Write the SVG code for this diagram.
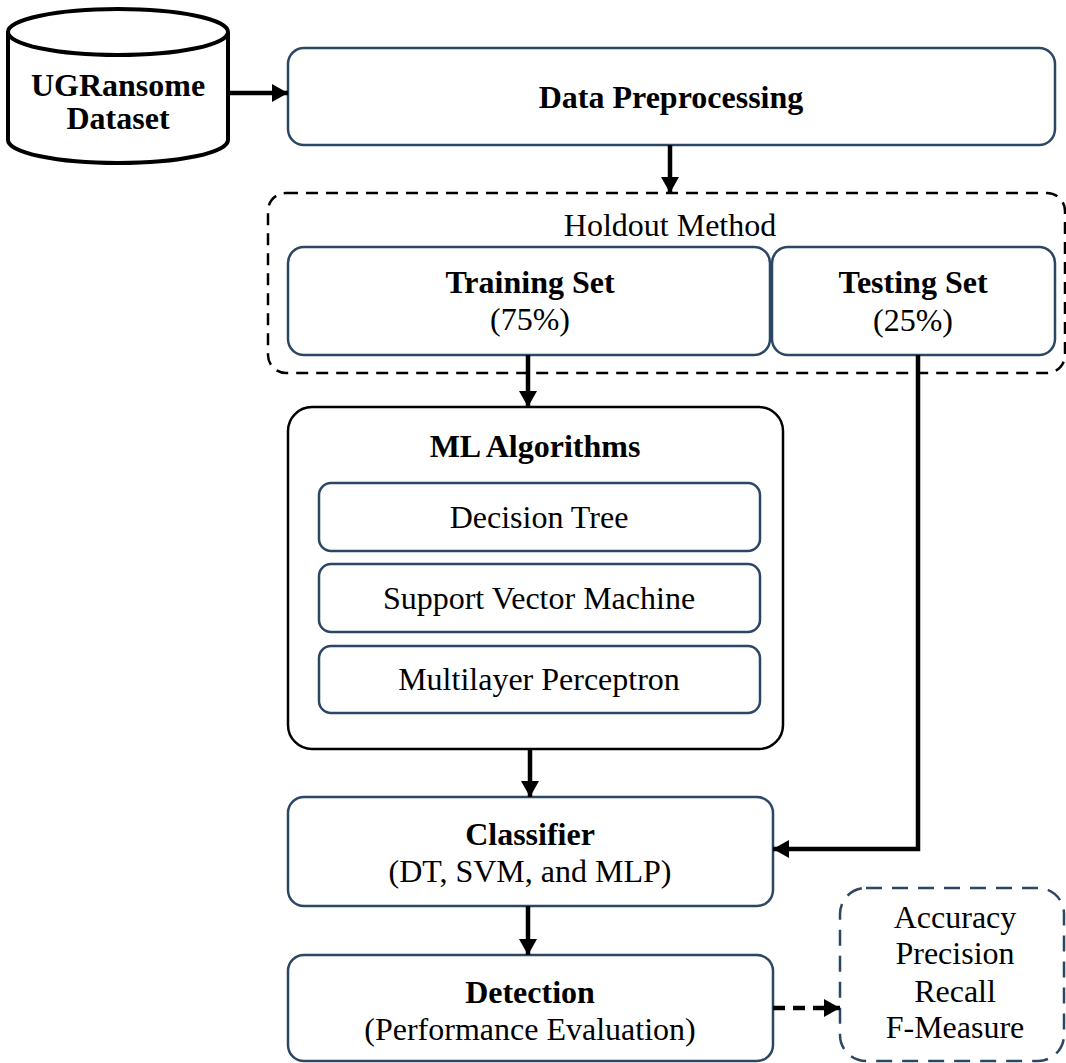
<svg xmlns="http://www.w3.org/2000/svg" width="1066" height="1063" viewBox="0 0 1066 1063">
  <style>
    text { font-family: "Liberation Serif", "Times New Roman", serif; font-size: 32px; fill: #000; text-anchor: middle; }
    .b { font-weight: bold; }
    .box { fill: #fff; stroke: #2b4764; stroke-width: 2.5; }
    .ml { fill: #fff; stroke: #000; stroke-width: 2.5; }
    .group { fill: none; stroke: #000; stroke-width: 2.5; stroke-dasharray: 12 8; }
    .metrics { fill: #fff; stroke: #2b4764; stroke-width: 2.5; stroke-dasharray: 16 10; }
    .conn { fill: none; stroke: #000; stroke-width: 4.5; }
    .dash { stroke-dasharray: 12 8; }
  </style>
  <defs>
    <marker id="head" markerUnits="userSpaceOnUse" markerWidth="18" markerHeight="18" viewBox="0 0 16 18" refX="16" refY="9" orient="auto">
      <path d="M0,0 L16,9 L0,18 Z" fill="#000"/>
    </marker>
  </defs>
  <rect width="1066" height="1063" fill="#fff"/>

  <!-- holdout split frame -->
  <g id="holdout">
    <rect class="group" x="268" y="193" width="797" height="180" rx="18"/>
    <text x="670" y="236">Holdout Method</text>
  </g>

  <g id="dataset">
    <path d="M8,32 V140 A110,23 0 0 0 228,140 V32" fill="#fff" stroke="#000" stroke-width="4"/>
    <ellipse cx="118" cy="32" rx="110" ry="23" fill="#fff" stroke="#000" stroke-width="4"/>
    <text class="b" x="118" y="96">UGRansome</text>
    <text class="b" x="118" y="129">Dataset</text>
  </g>

  <g id="preprocessing">
    <rect class="box" x="288" y="48" width="767" height="97" rx="16"/>
    <text class="b" x="671" y="108">Data Preprocessing</text>
  </g>

  <g id="training">
    <rect class="box" x="288" y="247" width="482" height="108" rx="16"/>
    <text class="b" x="530" y="293">Training Set</text>
    <text x="530" y="330">(75%)</text>
  </g>

  <g id="testing">
    <rect class="box" x="772" y="247" width="283" height="108" rx="16"/>
    <text class="b" x="913" y="293">Testing Set</text>
    <text x="913" y="331">(25%)</text>
  </g>

  <g id="algorithms">
    <rect class="ml" x="288" y="407" width="495" height="342" rx="24"/>
    <text class="b" x="535" y="457">ML Algorithms</text>
    <g id="dt">
      <rect class="box" x="319" y="483" width="441" height="68" rx="12"/>
      <text x="539" y="528">Decision Tree</text>
    </g>
    <g id="svm">
      <rect class="box" x="319" y="564" width="441" height="68" rx="12"/>
      <text x="539" y="609">Support Vector Machine</text>
    </g>
    <g id="mlp">
      <rect class="box" x="319" y="646" width="441" height="67" rx="12"/>
      <text x="539" y="690">Multilayer Perceptron</text>
    </g>
  </g>

  <g id="classifier">
    <rect class="box" x="288" y="797" width="485" height="109" rx="16"/>
    <text class="b" x="530" y="845">Classifier</text>
    <text x="530" y="882">(DT, SVM, and MLP)</text>
  </g>

  <g id="detection">
    <rect class="box" x="288" y="955" width="485" height="106" rx="16"/>
    <text class="b" x="530" y="1003">Detection</text>
    <text x="530" y="1040">(Performance Evaluation)</text>
  </g>

  <g id="metrics">
    <rect class="metrics" x="840" y="888" width="224" height="173" rx="26"/>
    <text x="955" y="928">Accuracy</text>
    <text x="955" y="964">Precision</text>
    <text x="955" y="1002">Recall</text>
    <text x="955" y="1038">F-Measure</text>
  </g>

  <g id="connectors">
    <line class="conn" x1="228" y1="93" x2="288" y2="93" marker-end="url(#head)"/>
    <line class="conn" x1="670" y1="145" x2="670" y2="193" marker-end="url(#head)"/>
    <line class="conn" x1="528" y1="355" x2="528" y2="407" marker-end="url(#head)"/>
    <polyline class="conn" points="918,355 918,849 773,849" marker-end="url(#head)"/>
    <line class="conn" x1="530" y1="749" x2="530" y2="797" marker-end="url(#head)"/>
    <line class="conn" x1="528" y1="906" x2="528" y2="955" marker-end="url(#head)"/>
    <line class="conn dash" x1="773" y1="1008" x2="840" y2="1008" marker-end="url(#head)"/>
  </g>
</svg>
